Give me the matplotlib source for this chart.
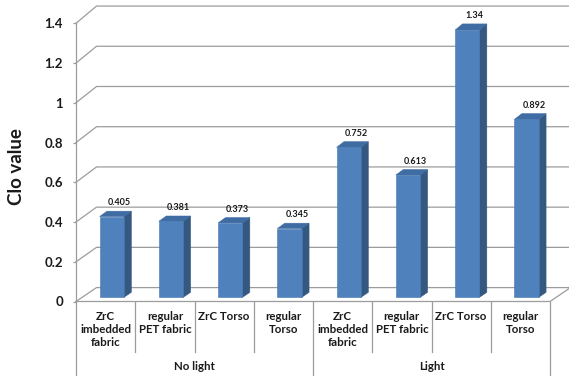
import matplotlib
matplotlib.use("Agg")
import matplotlib.pyplot as plt
from matplotlib.patches import Polygon

# Data
groups = ["No light", "Light"]
categories = ["ZrC\nimbedded\nfabric", "regular\nPET fabric", "ZrC Torso", "regular\nTorso"]
clo_no_light = [0.405, 0.381, 0.373, 0.345]
clo_light = [0.752, 0.613, 1.34, 0.892]
y_ticks = [0, 0.2, 0.4, 0.6, 0.8, 1, 1.2, 1.4]
y_tick_labels = ["0", "0.2", "0.4", "0.6", "0.8", "1", "1.2", "1.4"]
y_label = "Clo value"

values = clo_no_light + clo_light
labels = categories * len(groups)
n = len(values)

plt.rcParams['font.family'] = ['Lato', 'DejaVu Sans']

W, H = 569, 376
fig = plt.figure(figsize=(W / 100, H / 100), dpi=100)
ax = fig.add_axes([76 / W, (H - 301.5) / H, 474 / W, 278.2 / H])
ax.set_xlim(0, n)
ax.set_ylim(0, 1.4)

GRID = '#9c9c9c'
FRONT = '#4F81BD'
SIDE = '#34587F'
TOP = '#3F6CA3'

# oblique depth of the 3-D box, in front-plane data units
DEPTH_X = 0.346
DEPTH_Y0 = 0.070
DEPTH_YS = 0.012


def proj(x, v, t):
    """Map (category position, value, depth 0..1) onto the front plane."""
    return x + t * DEPTH_X, v + t * (DEPTH_Y0 + DEPTH_YS * v)


# back wall gridlines with their diagonals on the side wall
for v in y_ticks:
    p0 = proj(0, v, 0)
    p1 = proj(0, v, 1)
    p2 = proj(n, v, 1)
    ax.plot([p0[0], p1[0], p2[0]], [p0[1], p1[1], p2[1]], color=GRID,
            lw=0.9, clip_on=False, zorder=1, solid_joinstyle='miter')

# floor front edge and right diagonal
f0 = proj(0, 0, 0)
f1 = proj(n, 0, 0)
f2 = proj(n, 0, 1)
ax.plot([f0[0], f1[0], f2[0]], [f0[1], f1[1], f2[1]], color=GRID, lw=0.9,
        clip_on=False, zorder=1)

# 3-D columns
T0, T1 = 0.30, 0.66
BW = 0.41
centers = [i + 0.5 for i in range(n)]
front_x, front_b, front_h = [], [], []
for cx, v in zip(centers, values):
    x0, x1 = cx - BW / 2, cx + BW / 2
    side = [proj(x1, 0, T0), proj(x1, 0, T1), proj(x1, v, T1), proj(x1, v, T0)]
    top = [proj(x0, v, T0), proj(x1, v, T0), proj(x1, v, T1), proj(x0, v, T1)]
    ax.add_patch(Polygon(side, closed=True, facecolor=SIDE, edgecolor=SIDE,
                         lw=0.4, zorder=3, clip_on=False))
    ax.add_patch(Polygon(top, closed=True, facecolor=TOP, edgecolor=TOP,
                         lw=0.4, zorder=3, clip_on=False))
    bx, bb = proj(cx, 0, T0)
    _, bt = proj(cx, v, T0)
    front_x.append(bx)
    front_b.append(bb)
    front_h.append(bt - bb)
ax.bar(front_x, front_h, width=BW, bottom=front_b, color=FRONT,
       edgecolor='#4677B0', lw=0.4, zorder=4, clip_on=False)

# value labels above each column
for cx, v in zip(centers, values):
    lx, ly = proj(cx, v, T1)
    ax.annotate(f"{v:g}", (lx, ly), xytext=(0, 6), textcoords='offset points',
                ha='center', va='center', fontsize=6.5, fontweight='bold',
                color='#1a1a1a', zorder=5, annotation_clip=False)

# axes styling
for s in ['top', 'right', 'bottom']:
    ax.spines[s].set_visible(False)
ax.spines['left'].set_color(GRID)
ax.spines['left'].set_linewidth(0.9)
ax.set_xticks([])
ax.set_yticks(y_ticks)
ax.set_yticklabels(y_tick_labels, fontweight='bold', fontsize=9.5,
                   color='#1a1a1a')
ax.tick_params(axis='y', length=2.4, width=0.9, color=GRID, pad=7)
ax.set_ylabel(y_label, fontsize=13.5, fontweight='bold', va='center',
              color='#1a1a1a')
ax.yaxis.set_label_coords(-0.125, 0.485)
ax.patch.set_visible(False)

# category and group axis below the floor
xt = ax.get_xaxis_transform()
group_size = len(categories)
for k in range(n + 1):
    bottom = -0.27 if k % group_size == 0 else -0.18
    ax.plot([k, k], [0, bottom], transform=xt, color=GRID, lw=0.9,
            clip_on=False, zorder=1)
for cx, lab in zip(centers, labels):
    ax.text(cx, -0.034, lab, transform=xt, ha='center', va='top',
            fontsize=8.3, fontweight='bold', linespacing=1.2, color='#1a1a1a')
for g, name in enumerate(groups):
    ax.text(g * group_size + group_size / 2, -0.235, name, transform=xt,
            ha='center', va='center', fontsize=8.3, fontweight='bold',
            color='#1a1a1a')

fig.savefig("out.png", dpi=100, facecolor='white')
